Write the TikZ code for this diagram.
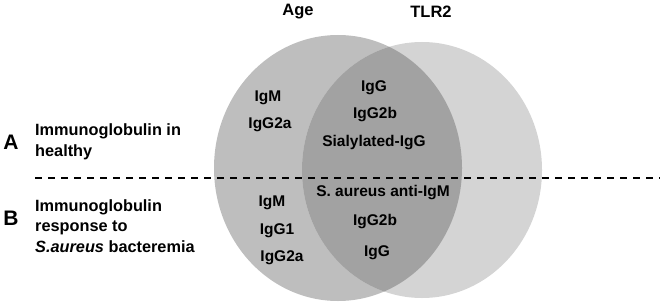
\documentclass[tikz,border=0pt]{standalone}
\usepackage{fontspec}
\setmainfont{Liberation Sans}
\definecolor{agefill}{gray}{0.745}
\definecolor{tlrfill}{gray}{0.83}
\definecolor{bothfill}{gray}{0.635}
\begin{document}
\begin{tikzpicture}[x=1pt,y=-1pt,
  lbl/.style={font=\bfseries\fontsize{15.5}{17}\selectfont, inner sep=0pt, anchor=center},
  head/.style={font=\bfseries\fontsize{16.5}{19}\selectfont, inner sep=0pt},
  letter/.style={font=\bfseries\fontsize{21}{23}\selectfont, inner sep=0pt},
  side/.style={font=\bfseries\fontsize{16.3}{20.5}\selectfont, inner sep=0pt, anchor=west, align=left},
  divider/.style={line width=2.4pt, dash pattern=on 7pt off 6pt}]
\useasboundingbox (0,0) rectangle (660,305);
% ellipses
\fill[agefill] (338,168) ellipse [x radius=124, y radius=133];
\fill[tlrfill] (422,170) ellipse [x radius=120, y radius=128];
\begin{scope}
  \clip (338,168) ellipse [x radius=124, y radius=133];
  \fill[bothfill] (422,170) ellipse [x radius=120, y radius=128];
\end{scope}
% headings
\node[head] (age) at (298,12) {Age};
\node[head] (tlr) at (431,12) {TLR2};
% divider
\coordinate (dl) at (35,178);
\coordinate (dr) at (660,178);
\draw[divider] (dl) -- (dr);
% side labels
\node[letter] (la) at (11,142) {A};
\node[side] (ta) at (35,142) {Immunoglobulin in\\healthy};
\node[letter] (lb) at (11,218) {B};
\node[side] (tb) at (35,226) {Immunoglobulin\\response to\\\textit{S.aureus} bacteremia};
% A region texts
\node[lbl] (a1) at (268,98) {IgM};
\node[lbl] (a2) at (270,125) {IgG2a};
\node[lbl] (a3) at (374,88) {IgG};
\node[lbl] (a4) at (375,115) {IgG2b};
\node[lbl] (a5) at (374,143) {Sialylated-IgG};
% B region texts
\node[lbl] (b1) at (272,203) {IgM};
\node[lbl] (b2) at (277,231) {IgG1};
\node[lbl] (b3) at (282,258) {IgG2a};
\node[lbl] (b4) at (383,193) {S. aureus anti-IgM};
\node[lbl] (b5) at (375,222) {IgG2b};
\node[lbl] (b6) at (377,253) {IgG};
\end{tikzpicture}
\end{document}
